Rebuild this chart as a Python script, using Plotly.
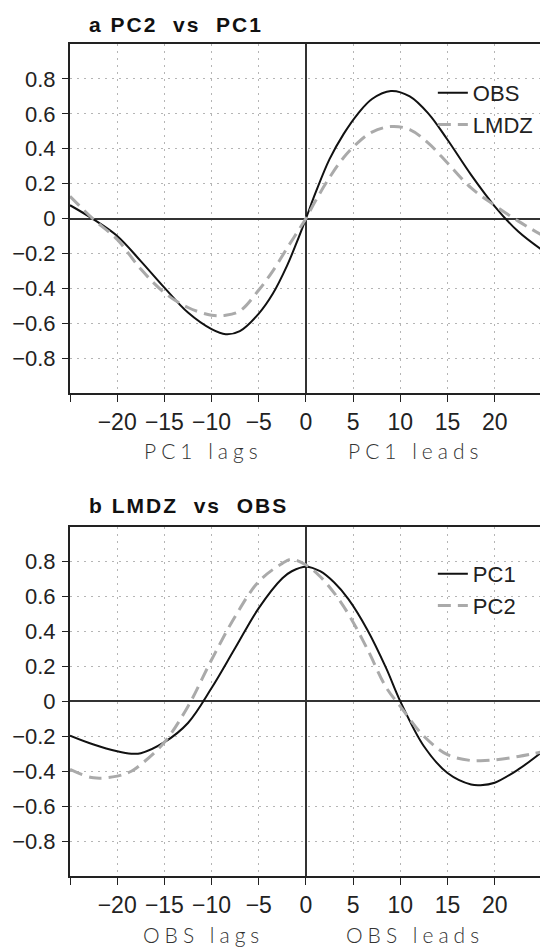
import plotly.graph_objects as go

# ---------------- data ----------------
lag_a = [-25, -22.5, -20, -17.5, -15, -12.5, -10, -8.5, -7, -5, -3.5, -2, -1, 0, 1, 2.5, 4, 5.5, 7, 9, 11, 13, 15, 17.5, 20, 22.5, 25]
obs_a = [0.076, -0.005, -0.10, -0.244, -0.396, -0.539, -0.634, -0.663, -0.645, -0.545, -0.43, -0.27, -0.14, 0.0, 0.145, 0.34, 0.485, 0.60, 0.685, 0.731, 0.70, 0.60, 0.451, 0.25, 0.07, -0.075, -0.18]
lmdz_a = [0.127, -0.005, -0.12, -0.29, -0.425, -0.51, -0.554, -0.555, -0.53, -0.41, -0.30, -0.17, -0.085, 0.0, 0.10, 0.235, 0.35, 0.435, 0.495, 0.527, 0.51, 0.43, 0.318, 0.175, 0.075, -0.015, -0.095]

lag_b = [-25, -22.5, -20, -18.5, -17.5, -15, -12.5, -10, -7.5, -5, -2.5, -1.5, 0, 1.5, 3, 4.5, 6.5, 8.5, 10, 12.5, 15, 17.5, 18.5, 20, 22.5, 25]
pc1_b = [-0.196, -0.247, -0.286, -0.30, -0.297, -0.234, -0.124, 0.076, 0.305, 0.534, 0.705, 0.745, 0.771, 0.745, 0.68, 0.585, 0.41, 0.19, 0.0, -0.257, -0.41, -0.476, -0.48, -0.466, -0.39, -0.29]
pc2_b = [-0.39, -0.438, -0.428, -0.40, -0.362, -0.234, -0.029, 0.238, 0.486, 0.686, 0.79, 0.813, 0.781, 0.715, 0.62, 0.50, 0.30, 0.08, -0.029, -0.20, -0.305, -0.339, -0.34, -0.335, -0.316, -0.29]

x_tickvals = [-25, -20, -15, -10, -5, 0, 5, 10, 15, 20, 25]
x_ticktext = ["", "\u221220", "\u221215", "\u221210", "\u22125", "0", "5", "10", "15", "20", "25"]
y_tickvals = [-0.8, -0.6, -0.4, -0.2, 0, 0.2, 0.4, 0.6, 0.8]
y_ticktext = ["\u22120.8", "\u22120.6", "\u22120.4", "\u22120.2", "0", "0.2", "0.4", "0.6", "0.8"]

titles = [("a", "PC2  vs  PC1"), ("b", "LMDZ  vs  OBS")]
xlabels = [("PC1 lags", "PC1 leads"), ("OBS lags", "OBS leads")]
names_a = ["OBS", "LMDZ"]
names_b = ["PC1", "PC2"]

# ---------------- figure ----------------
W, H = 540, 950
dom_a = [1 - 393 / H, 1 - 44 / H]
dom_b = [1 - 876 / H, 1 - 526.7 / H]

BLACK = "#111111"
GRAY = "#aaaaaa"
FONT = "Liberation Sans"

fig = go.Figure()

def add_pair(x, y1, y2, n1, n2, xa, ya, leg):
    fig.add_trace(go.Scatter(x=x, y=y1, mode="lines", name=n1, xaxis=xa, yaxis=ya,
                             line=dict(color=BLACK, width=2, shape="spline", smoothing=1),
                             legend=leg))
    fig.add_trace(go.Scatter(x=x, y=y2, mode="lines", name=n2, xaxis=xa, yaxis=ya,
                             line=dict(color=GRAY, width=3, dash="13px,7px", shape="spline", smoothing=1),
                             legend=leg))

add_pair(lag_a, obs_a, lmdz_a, names_a[0], names_a[1], "x", "y", "legend")
add_pair(lag_b, pc1_b, pc2_b, names_b[0], names_b[1], "x2", "y2", "legend2")

xcommon = dict(range=[-25, 24.8], tickmode="array", tickvals=x_tickvals, ticktext=x_ticktext,
               showline=True, linecolor="#222222", linewidth=2, mirror=True,
               ticks="outside", ticklen=7, tickwidth=1.2, tickcolor="#222222",
               showgrid=True, gridcolor="#b5b5b5", griddash="2px,5px", gridwidth=1,
               zeroline=True, zerolinecolor="#333333", zerolinewidth=1.5,
               tickfont=dict(family=FONT, size=23, color="#222222"),
               ticklabelstandoff=0, fixedrange=True)
ycommon = dict(range=[-1, 1], tickmode="array", tickvals=y_tickvals, ticktext=y_ticktext,
               showline=True, linecolor="#222222", linewidth=2, mirror=False,
               ticks="outside", ticklen=6, tickwidth=1.2, tickcolor="#222222",
               showgrid=True, gridcolor="#b5b5b5", griddash="2px,5px", gridwidth=1,
               zeroline=True, zerolinecolor="#333333", zerolinewidth=1.5,
               tickfont=dict(family=FONT, size=22, color="#222222"),
               ticklabelstandoff=2, fixedrange=True)

legfont = dict(family=FONT, size=22, color="#222222")
fig.update_layout(
    width=W, height=H,
    margin=dict(l=70, r=0, t=0, b=0),
    paper_bgcolor="white", plot_bgcolor="white",
    xaxis=dict(**xcommon, anchor="y", domain=[0, 1]),
    yaxis=dict(**ycommon, anchor="x", domain=dom_a),
    xaxis2=dict(**xcommon, anchor="y2", domain=[0, 1]),
    yaxis2=dict(**ycommon, anchor="x2", domain=dom_b),
    legend=dict(x=0.772, y=1 - 72 / H, xanchor="left", yanchor="top", bgcolor="rgba(0,0,0,0)",
                font=legfont, itemwidth=30),
    legend2=dict(x=0.772, y=1 - 553 / H, xanchor="left", yanchor="top", bgcolor="rgba(0,0,0,0)",
                 font=legfont, itemwidth=30),
    showlegend=True,
)

annos = []
for (lt, rest), ty in zip(titles, [25, 505]):
    annos.append(dict(text='<span style="letter-spacing:2px"><b>' + lt + "</b> <b>" + rest + "</b></span>",
                      x=(87 - 70) / 470, xref="paper",
                      y=1 - ty / H, yref="paper",
                      xanchor="left", yanchor="middle", showarrow=False,
                      font=dict(family=FONT, size=21, color="#111111")))
for (l1, l2), ty, xr in zip(xlabels, [451, 934], ["x", "x2"]):
    for txt, xc in ((l1, -10.9), (l2, 11.6)):
        annos.append(dict(text='<span style="letter-spacing:5px">' + txt + "</span>",
                          x=xc, xref=xr, y=1 - ty / H, yref="paper",
                          xanchor="center", yanchor="middle", showarrow=False,
                          font=dict(family="Lato", size=21, color="#333333", weight=300)))
fig.update_layout(annotations=annos)

fig.write_html("out.html")
